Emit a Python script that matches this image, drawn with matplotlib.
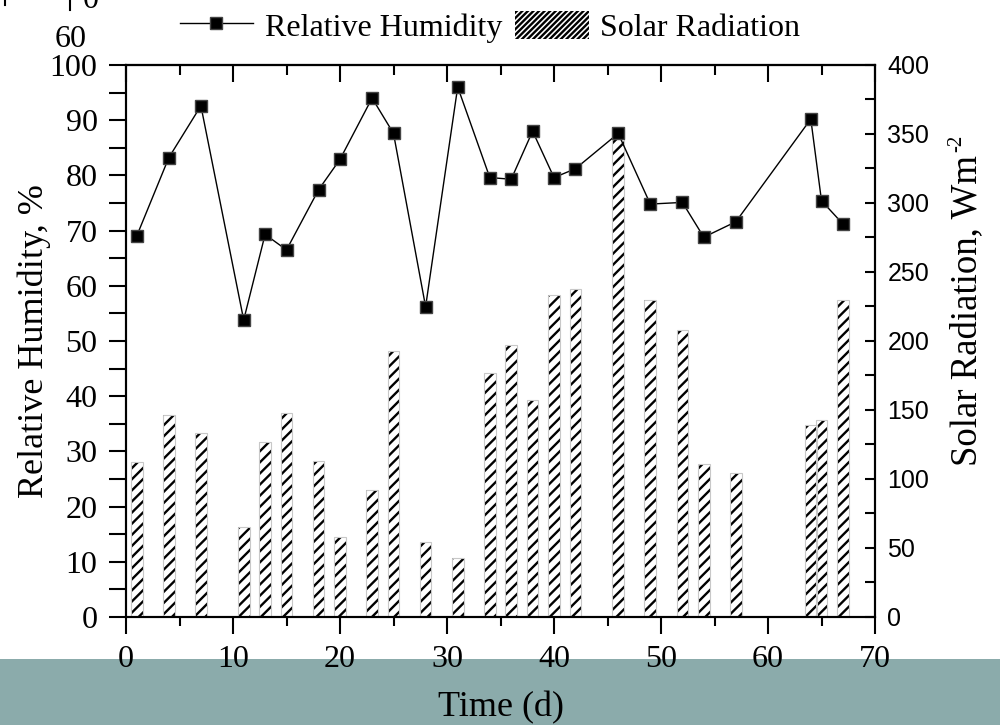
import matplotlib
matplotlib.use('Agg')
import matplotlib.pyplot as plt
from matplotlib.patches import Patch, Rectangle
from matplotlib.lines import Line2D
from matplotlib.ticker import MultipleLocator

plt.rcParams['font.family'] = ['Liberation Serif', 'DejaVu Serif']
plt.rcParams['hatch.linewidth'] = 1.7

# 数据
days = [1, 4, 7, 11, 13, 15, 18, 20, 23, 25, 28, 31, 34, 36, 38, 40, 42, 46, 49, 52, 54, 57, 64, 65, 67]
humidity = [69.0, 83.2, 92.6, 53.8, 69.3, 66.5, 77.4, 82.9, 94.0, 87.6, 56.2, 96.0, 79.6,
            79.3, 88.0, 79.6, 81.2, 87.6, 74.8, 75.1, 68.8, 71.6, 90.2, 75.4, 71.2]
solar = [112, 146, 133, 65, 127, 148, 113, 58, 92, 193, 54, 43, 177,
         197, 157, 233, 238, 353, 230, 208, 111, 104, 139, 143, 230]

fig = plt.figure(figsize=(10, 7.25), dpi=100)
ax = fig.add_axes([0.126, 0.149, 0.749, 0.7614])
ax2 = ax.twinx()

# 底部色带
fig.add_artist(Rectangle((0, 0), 1, 66 / 725, transform=fig.transFigure,
                         facecolor='#8babab', edgecolor='none', zorder=-5))

# 柱状图（太阳辐射）
ax2.bar(days, solar, width=1.1, facecolor='white', edgecolor='black',
        linewidth=0, hatch='///')
ax2.bar(days, solar, width=1.1, fill=False, edgecolor='#c8c8c8', linewidth=0.8)

# 折线（相对湿度）
ax.plot(days, humidity, color='black', linewidth=1.0, marker='s', markersize=9,
        markerfacecolor='black', markeredgecolor='#444444')
ax.set_zorder(2)
ax.patch.set_visible(False)

ax.set_xlim(0, 70)
ax.set_ylim(0, 100)
ax2.set_ylim(0, 400)

ax.xaxis.set_major_locator(MultipleLocator(10))
ax.xaxis.set_minor_locator(MultipleLocator(5))
ax.yaxis.set_major_locator(MultipleLocator(10))
ax.yaxis.set_minor_locator(MultipleLocator(5))
ax2.yaxis.set_major_locator(MultipleLocator(50))
ax2.yaxis.set_minor_locator(MultipleLocator(25))

ax.tick_params(axis='x', which='major', direction='out', length=12.5, width=1.5,
               labelsize=23, pad=8, top=False)
ax.tick_params(axis='x', which='minor', direction='out', length=6.5, width=1.5, top=False)
ax.tick_params(axis='y', which='both', direction='out', length=12.5, width=1.5,
               labelsize=23, pad=8, right=False)
ax2.tick_params(axis='y', which='both', direction='in', length=7, width=1.5,
                labelsize=18, pad=9)
for lab in ax2.get_yticklabels():
    lab.set_family('Liberation Sans')

top = ax.secondary_xaxis('top')
top.xaxis.set_major_locator(MultipleLocator(10))
top.xaxis.set_minor_locator(MultipleLocator(5))
top.tick_params(which='major', direction='in', length=12, width=1.5, labeltop=False)
top.tick_params(which='minor', direction='in', length=7, width=1.5)
top.spines['top'].set_linewidth(1.5)

for a in (ax, ax2):
    for s in a.spines.values():
        s.set_linewidth(1.5)

ax.set_xlabel('Time (d)', fontsize=26, va='top')
ax.xaxis.set_label_coords(0.5, -0.134)
ax.set_ylabel('Relative Humidity, %', fontsize=26)
ax.yaxis.set_label_coords(-0.10, 0.5)
ylab2 = ax2.set_ylabel('Solar Radiation, Wm', fontsize=26.5)
ax2.yaxis.set_label_coords(1.1, 0.555)

# 图例
handles = [Line2D([], [], color='black', linewidth=1.0, marker='s', markersize=9,
                  markerfacecolor='black', markeredgecolor='#444444'),
           Patch(facecolor='white', edgecolor='black', hatch='//////', linewidth=0)]
fig.legend(handles, ['Relative Humidity', 'Solar Radiation'], loc='upper center',
           bbox_to_anchor=(0.49, 1.025), ncol=2, frameon=False, fontsize=23,
           handlelength=2.3, handleheight=1.0, handletextpad=0.37, columnspacing=0.4)

# 左上角残留的文字
fig.text(0.083, 1 - 8 / 725, '0', fontsize=23, ha='left', va='baseline')
fig.add_artist(Line2D([0.070, 0.070], [1, 1 - 10 / 725], color='black', linewidth=1.5,
                      transform=fig.transFigure))
fig.add_artist(Line2D([0.005, 0.005], [1, 1 - 5 / 725], color='black', linewidth=1.5,
                      transform=fig.transFigure))
fig.text(0.055, 1 - 47 / 725, '60', fontsize=23, ha='left', va='baseline')

# 单位上标 -2
fig.canvas.draw()
bb = ylab2.get_window_extent().transformed(fig.transFigure.inverted())
fig.text(bb.x0 - 0.003, bb.y1 + 0.004, '-2', fontsize=15, rotation=90,
         ha='left', va='bottom')

fig.savefig('out.png', dpi=100)
